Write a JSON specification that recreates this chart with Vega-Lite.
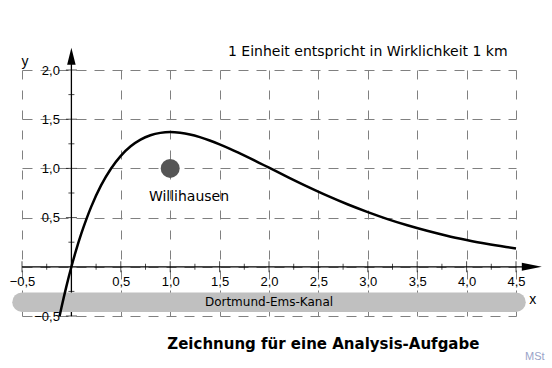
{
  "$schema": "https://vega.github.io/schema/vega-lite/v6.json",
  "width": 494,
  "height": 246,
  "autosize": "none",
  "padding": {"left": 22, "top": 70, "right": 36, "bottom": 52},
  "background": "white",
  "config": {"view": {"stroke": null}, "font": "Liberation Sans"},
  "datasets": {
    "curve": [
      {"x": -0.12, "y": -0.503}, {"x": -0.1, "y": -0.411}, {"x": -0.05, "y": -0.196}, {"x": 0, "y": 0},
      {"x": 0.05, "y": 0.177}, {"x": 0.1, "y": 0.337}, {"x": 0.15, "y": 0.48}, {"x": 0.2, "y": 0.609},
      {"x": 0.3, "y": 0.827}, {"x": 0.4, "y": 0.997}, {"x": 0.5, "y": 1.128}, {"x": 0.6, "y": 1.225},
      {"x": 0.7, "y": 1.293}, {"x": 0.8, "y": 1.337}, {"x": 0.9, "y": 1.361}, {"x": 1.0, "y": 1.369},
      {"x": 1.1, "y": 1.362}, {"x": 1.2, "y": 1.345}, {"x": 1.3, "y": 1.318}, {"x": 1.4, "y": 1.284},
      {"x": 1.5, "y": 1.245}, {"x": 1.6, "y": 1.202}, {"x": 1.7, "y": 1.155}, {"x": 1.8, "y": 1.107},
      {"x": 1.9, "y": 1.057}, {"x": 2.0, "y": 1.007}, {"x": 2.2, "y": 0.907}, {"x": 2.4, "y": 0.81},
      {"x": 2.6, "y": 0.718}, {"x": 2.8, "y": 0.633}, {"x": 3.0, "y": 0.556}, {"x": 3.2, "y": 0.485},
      {"x": 3.4, "y": 0.422}, {"x": 3.6, "y": 0.366}, {"x": 3.8, "y": 0.316}, {"x": 4.0, "y": 0.273},
      {"x": 4.2, "y": 0.234}, {"x": 4.4, "y": 0.201}, {"x": 4.5, "y": 0.186}
    ],
    "xticks": [
      {"v": -0.5, "k": "major"}, {"v": -0.25, "k": "minor"}, {"v": 0.25, "k": "minor"}, {"v": 0.5, "k": "major"},
      {"v": 0.75, "k": "minor"}, {"v": 1.0, "k": "major"}, {"v": 1.25, "k": "minor"}, {"v": 1.5, "k": "major"},
      {"v": 1.75, "k": "minor"}, {"v": 2.0, "k": "major"}, {"v": 2.25, "k": "minor"}, {"v": 2.5, "k": "major"},
      {"v": 2.75, "k": "minor"}, {"v": 3.0, "k": "major"}, {"v": 3.25, "k": "minor"}, {"v": 3.5, "k": "major"},
      {"v": 3.75, "k": "minor"}, {"v": 4.0, "k": "major"}, {"v": 4.25, "k": "minor"}, {"v": 4.5, "k": "major"}
    ],
    "yticks": [
      {"v": -0.5, "k": "major"}, {"v": -0.25, "k": "minor"}, {"v": 0.25, "k": "minor"}, {"v": 0.5, "k": "major"},
      {"v": 0.75, "k": "minor"}, {"v": 1.0, "k": "major"}, {"v": 1.25, "k": "minor"}, {"v": 1.5, "k": "major"},
      {"v": 1.75, "k": "minor"}, {"v": 2.0, "k": "major"}
    ]
  },
  "layer": [
    {
      "data": {"name": "curve"},
      "mark": {"type": "line", "opacity": 0},
      "encoding": {
        "x": {
          "field": "x", "type": "quantitative",
          "scale": {"domain": [-0.5, 4.5], "nice": false, "zero": false},
          "axis": {
            "values": [-0.5, 0, 0.5, 1, 1.5, 2, 2.5, 3, 3.5, 4, 4.5],
            "grid": true, "gridDash": [9, 11], "gridColor": "#808080", "gridOpacity": 1, "gridWidth": 1,
            "domain": false, "ticks": false, "offset": -49.2, "labelPadding": 9,
            "labelFlush": false, "labelOverlap": false, "labelFontSize": 13, "labelColor": "#000",
            "labelExpr": "datum.value == 0 ? '' : replace(format(datum.value, '.1f'), '.', ',')",
            "title": null
          }
        },
        "y": {
          "field": "y", "type": "quantitative",
          "scale": {"domain": [-0.5, 2.0], "nice": false, "zero": false},
          "axis": {
            "values": [-0.5, 0, 0.5, 1, 1.5, 2],
            "grid": true, "gridDash": [10, 8], "gridColor": "#808080", "gridOpacity": 1, "gridWidth": 1,
            "domain": false, "ticks": false, "offset": -49.4, "labelPadding": 12,
            "labelFlush": false, "labelOverlap": false, "labelFontSize": 13, "labelColor": "#000",
            "labelExpr": "datum.value == 0 ? '' : replace(format(datum.value, '.1f'), '.', ',')",
            "title": null
          }
        }
      }
    },
    {
      "data": {"values": [{"x": -0.5, "x2": 4.62, "y": 0, "y2": 0}, {"x": 0, "x2": 0, "y": -0.5, "y2": 2.1}]},
      "mark": {"type": "rule", "color": "#000", "strokeWidth": 1.3},
      "encoding": {
        "x": {"field": "x", "type": "quantitative"},
        "x2": {"field": "x2"},
        "y": {"field": "y", "type": "quantitative"},
        "y2": {"field": "y2"}
      }
    },
    {
      "data": {"name": "xticks"},
      "mark": {"type": "tick", "orient": "vertical", "color": "#000", "thickness": 1},
      "encoding": {
        "x": {"field": "v", "type": "quantitative"},
        "y": {"datum": 0, "type": "quantitative"},
        "size": {"field": "k", "type": "nominal", "scale": {"domain": ["major", "minor"], "range": [11, 6]}, "legend": null}
      }
    },
    {
      "data": {"name": "yticks"},
      "mark": {"type": "tick", "orient": "horizontal", "color": "#000", "thickness": 1},
      "encoding": {
        "y": {"field": "v", "type": "quantitative"},
        "x": {"datum": 0, "type": "quantitative"},
        "size": {"field": "k", "type": "nominal", "scale": {"domain": ["major", "minor"], "range": [11, 6]}, "legend": null}
      }
    },
    {
      "data": {"values": [{"x": 4.66, "y": 0, "s": "x"}]},
      "mark": {"type": "point", "shape": "M-1,-0.4L1,0L-1,0.4Z", "filled": true, "color": "#000", "opacity": 1, "size": 400},
      "encoding": {
        "x": {"field": "x", "type": "quantitative"},
        "y": {"field": "y", "type": "quantitative"}
      }
    },
    {
      "data": {"values": [{"x": 0, "y": 2.14, "s": "y"}]},
      "mark": {"type": "point", "shape": "M-0.5,1L0,-1L0.5,1Z", "filled": true, "color": "#000", "opacity": 1, "size": 289},
      "encoding": {
        "x": {"field": "x", "type": "quantitative"},
        "y": {"field": "y", "type": "quantitative"}
      }
    },
    {
      "data": {"values": [{"x": -0.5, "x2": 4.5, "y": -0.36}]},
      "mark": {"type": "rule", "color": "#c0c0c0", "strokeWidth": 19.5, "strokeCap": "round"},
      "encoding": {
        "x": {"field": "x", "type": "quantitative"},
        "x2": {"field": "x2"},
        "y": {"field": "y", "type": "quantitative"}
      }
    },
    {
      "data": {"name": "curve"},
      "mark": {"type": "line", "color": "#000", "strokeWidth": 2.5, "interpolate": "monotone"},
      "encoding": {
        "x": {"field": "x", "type": "quantitative"},
        "y": {"field": "y", "type": "quantitative"}
      }
    },
    {
      "data": {"values": [{"x": 1.0, "y": 1.0, "name": "Willihausen"}]},
      "mark": {"type": "point", "filled": true, "color": "#555555", "opacity": 1, "size": 360},
      "encoding": {
        "x": {"field": "x", "type": "quantitative"},
        "y": {"field": "y", "type": "quantitative"}
      }
    },
    {
      "data": {"values": [{"x": 1.19, "y": 0.71, "t": "Willihausen"}]},
      "mark": {"type": "text", "font": "DejaVu Sans", "fontSize": 14, "color": "#000", "align": "center", "baseline": "middle"},
      "encoding": {
        "x": {"field": "x", "type": "quantitative"},
        "y": {"field": "y", "type": "quantitative"},
        "text": {"field": "t"}
      }
    },
    {
      "data": {"values": [{"x": 2.0, "y": -0.36, "t": "Dortmund-Ems-Kanal"}]},
      "mark": {"type": "text", "font": "DejaVu Sans", "fontSize": 12, "color": "#000", "align": "center", "baseline": "middle"},
      "encoding": {
        "x": {"field": "x", "type": "quantitative"},
        "y": {"field": "y", "type": "quantitative"},
        "text": {"field": "t"}
      }
    },
    {
      "data": {"values": [{"x": 3.0, "y": 2.18, "t": "1 Einheit entspricht in Wirklichkeit 1 km"}]},
      "mark": {"type": "text", "font": "DejaVu Sans", "fontSize": 14, "color": "#000", "align": "center", "baseline": "middle"},
      "encoding": {
        "x": {"field": "x", "type": "quantitative"},
        "y": {"field": "y", "type": "quantitative"},
        "text": {"field": "t"}
      }
    },
    {
      "data": {"values": [{"x": 2.55, "y": -0.78, "t": "Zeichnung für eine Analysis-Aufgabe"}]},
      "mark": {"type": "text", "font": "DejaVu Sans", "fontSize": 15, "fontWeight": "bold", "color": "#000", "align": "center", "baseline": "middle"},
      "encoding": {
        "x": {"field": "x", "type": "quantitative"},
        "y": {"field": "y", "type": "quantitative"},
        "text": {"field": "t"}
      }
    },
    {
      "data": {"values": [{"x": 4.69, "y": -0.92, "t": "MSt"}]},
      "mark": {"type": "text", "fontSize": 11, "color": "#9aa3c8", "align": "center", "baseline": "middle"},
      "encoding": {
        "x": {"field": "x", "type": "quantitative"},
        "y": {"field": "y", "type": "quantitative"},
        "text": {"field": "t"}
      }
    },
    {
      "data": {"values": [{"x": -0.47, "y": 2.08, "t": "y"}, {"x": 4.67, "y": -0.34, "t": "x"}]},
      "mark": {"type": "text", "fontSize": 14, "color": "#000", "align": "center", "baseline": "middle"},
      "encoding": {
        "x": {"field": "x", "type": "quantitative"},
        "y": {"field": "y", "type": "quantitative"},
        "text": {"field": "t"}
      }
    }
  ]
}
